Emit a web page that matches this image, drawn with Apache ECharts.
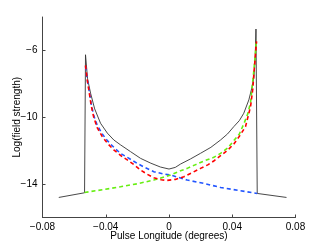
<!DOCTYPE html>
<html><head><meta charset="utf-8">
<script src="https://cdn.jsdelivr.net/npm/echarts@6/dist/echarts.min.js"></script>
<style>html,body{margin:0;padding:0;background:#fff}#c{width:327px;height:246px}</style>
</head><body><div id="c"></div>
<script>
const xTicks = [-0.08, -0.04, 0, 0.04, 0.08];
const yTicks = [-14, -10, -6];

const totalX = [-0.0697,-0.0534,-0.0528,-0.0515,-0.0496,-0.047,-0.0433,-0.039,-0.0349,-0.0307,-0.0243,-0.018,-0.0115,-0.0054,0,0.004,0.0073,0.0135,0.0199,0.0265,0.0326,0.037,0.041,0.0445,0.0473,0.0505,0.0526,0.0537,0.0545,0.055,0.0558,0.0743];
const totalY = [-14.8,-14.52,-6.26,-7.7,-8.56,-9.5,-10.36,-10.95,-11.36,-11.65,-12.06,-12.46,-12.75,-12.98,-13.1,-13.0,-12.8,-12.5,-12.16,-11.8,-11.36,-11.0,-10.56,-10.2,-9.76,-8.96,-8.16,-7.6,-6.5,-4.72,-14.56,-14.8];

const blueX = [-0.0528,-0.0518,-0.0507,-0.0492,-0.0476,-0.0455,-0.0422,-0.039,-0.0349,-0.0307,-0.0255,-0.0201,-0.015,-0.0096,-0.004,0.0009,0.006,0.0115,0.022,0.0326,0.044,0.0558];
const blueY = [-6.95,-7.7,-8.3,-9.2,-9.9,-10.45,-11.0,-11.4,-11.8,-12.16,-12.45,-12.76,-13.02,-13.26,-13.38,-13.46,-13.6,-13.76,-13.96,-14.2,-14.38,-14.56];

const greenX = [-0.0534,-0.045,-0.0375,-0.0307,-0.02,-0.0096,0.0009,0.0073,0.0115,0.0165,0.022,0.0283,0.0326,0.037,0.041,0.0445,0.0473,0.0498,0.0516,0.0537,0.0547,0.0552];
const greenY = [-14.5,-14.38,-14.27,-14.16,-13.98,-13.76,-13.46,-13.2,-13.06,-12.85,-12.62,-12.4,-12.16,-11.85,-11.4,-11.0,-10.4,-9.8,-9.1,-7.16,-6.1,-5.36];

const redX = [-0.0528,-0.0518,-0.0507,-0.0492,-0.0476,-0.0455,-0.0422,-0.039,-0.0349,-0.0296,-0.0264,-0.022,-0.018,-0.014,-0.0096,-0.005,-0.0011,0.004,0.0094,0.0145,0.0199,0.0245,0.0283,0.0326,0.037,0.041,0.0448,0.0484,0.0516,0.053,0.0537,0.0547,0.0554];
const redY = [-6.9,-7.7,-8.36,-9.3,-10.0,-10.6,-11.16,-11.55,-11.96,-12.36,-12.55,-12.85,-13.16,-13.4,-13.62,-13.74,-13.78,-13.72,-13.56,-13.32,-13.06,-12.85,-12.62,-12.3,-11.98,-11.6,-11.1,-10.56,-9.35,-8.3,-7.36,-6.2,-5.46];

const zip = (xs, ys) => xs.map((x, i) => [x, ys[i]]);
const fmt = v => (v === 0 ? '0' : String(+v.toFixed(4)).replace('-', '\u2212'));
const font = 'Liberation Sans, Arial, Helvetica, sans-serif';

const chart = echarts.init(document.getElementById('c'), null, {renderer: 'canvas'});
chart.setOption({
  animation: false,
  backgroundColor: '#fff',
  grid: {left: 42.5, right: 31.5, top: 17, bottom: 28.5, containLabel: false, outerBoundsMode: 'none'},
  xAxis: {
    type: 'value', min: -0.08, max: 0.08, interval: 0.04,
    name: 'Pulse Longitude (degrees)', nameLocation: 'middle', nameGap: 14, nameMoveOverlap: false,
    nameTextStyle: {fontFamily: font, fontSize: 10, color: '#000'},
    axisLine: {onZero: false, lineStyle: {color: '#444', width: 1}},
    axisTick: {inside: true, length: 3, lineStyle: {color: '#444'}, customValues: xTicks},
    axisLabel: {fontFamily: font, fontSize: 10, color: '#000', margin: 5, formatter: fmt, customValues: xTicks},
    splitLine: {show: false}
  },
  yAxis: {
    type: 'value', min: -16, max: -4, interval: 2,
    name: 'Log(field strength)', nameLocation: 'middle', nameGap: 20, nameMoveOverlap: false,
    nameTextStyle: {fontFamily: font, fontSize: 10, color: '#000'},
    axisLine: {show: true, onZero: false, lineStyle: {color: '#444', width: 1}},
    axisTick: {show: true, inside: true, length: 3, lineStyle: {color: '#444'}, customValues: yTicks},
    axisLabel: {fontFamily: font, fontSize: 10, color: '#000', margin: 5, formatter: fmt, customValues: yTicks},
    splitLine: {show: false}
  },
  series: [
    {type: 'line', data: zip(totalX, totalY), showSymbol: false, symbol: 'none',
     lineStyle: {color: '#333', width: 0.9}},
    {type: 'line', data: zip(blueX, blueY), showSymbol: false, symbol: 'none',
     lineStyle: {color: '#2255ff', width: 1.6, type: [4, 3]}},
    {type: 'line', data: zip(greenX, greenY), showSymbol: false, symbol: 'none',
     lineStyle: {color: '#66ee11', width: 1.6, type: [4, 3]}},
    {type: 'line', data: zip(redX, redY), showSymbol: false, symbol: 'none',
     lineStyle: {color: '#ff0000', width: 1.6, type: [4, 3]}}
  ]
});
</script></body></html>
